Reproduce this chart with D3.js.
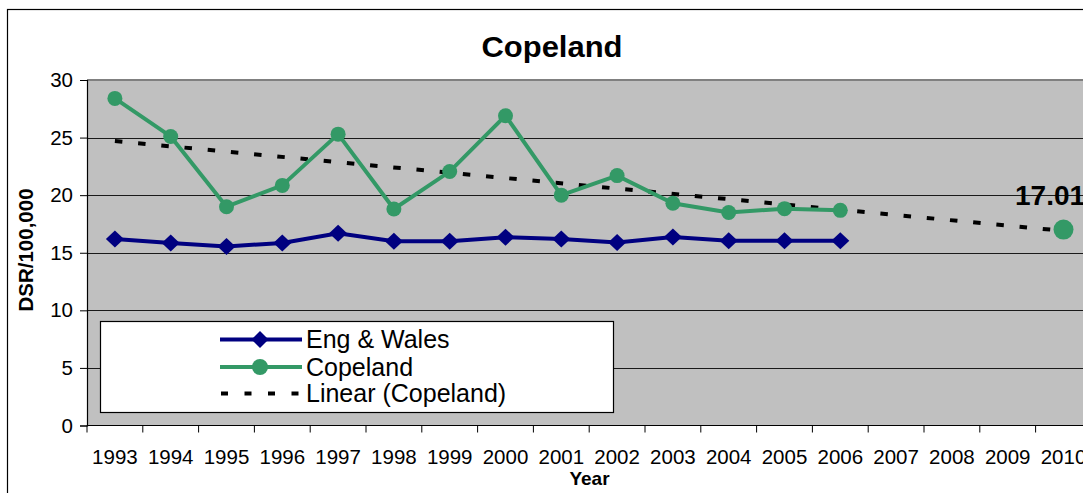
<!DOCTYPE html>
<html>
<head>
<meta charset="utf-8">
<script src="https://cdn.jsdelivr.net/npm/d3@7"></script>
<style>
  html, body { margin: 0; padding: 0; background: #fff; overflow: hidden; }
  svg { display: block; font-family: "Liberation Sans", Arial, sans-serif; }
</style>
</head>
<body>
<svg id="chart" width="1083" height="493"></svg>
<script>
// Category axis (trend extends to 2010)
const years = ["1993","1994","1995","1996","1997","1998","1999","2000","2001","2002",
               "2003","2004","2005","2006","2007","2008","2009","2010"];
// Directly standardised rates per 100,000, 1993-2006
const engWales = [16.2, 15.85, 15.55, 15.85, 16.7, 16.0, 16.0, 16.35, 16.2, 15.9, 16.37, 16.05, 16.05, 16.05];
const copeland = [28.4, 25.1, 19.0, 20.85, 25.3, 18.8, 22.05, 26.9, 20.0, 21.7, 19.3, 18.5, 18.83, 18.68];
// Linear trend of Copeland, ends
const trendYears = ["1993", "2010"];
const trendValues = [24.7, 16.9];
// Projected value for 2010
const projYear = "2010";
const projValue = 17.01;
const yTicks = [0, 5, 10, 15, 20, 25, 30];

const GREEN = "#339966", NAVY = "#000080", PLOT_BG = "#C0C0C0";

const svg = d3.select("#chart");
const plotLeft = 87, plotTop = 80, plotBottom = 425.5, step = 55.8;

const x = d3.scaleBand().domain(years).range([plotLeft, plotLeft + step * years.length]).padding(0);
const y = d3.scaleLinear().domain([0, 30]).range([plotBottom, plotTop]);
const cx = d => x(d) + x.bandwidth() / 2;

// Chart frame
svg.append("rect").attr("x", 7.5).attr("y", 9.5).attr("width", 1100).attr("height", 500)
  .attr("fill", "#fff").attr("stroke", "#000").attr("stroke-width", 1.2);

// Plot area
svg.append("rect").attr("x", plotLeft).attr("y", plotTop)
  .attr("width", x.range()[1] - plotLeft).attr("height", plotBottom - plotTop)
  .attr("fill", PLOT_BG);

// Gridlines
svg.append("g").selectAll("line").data(yTicks.filter(t => t > 0 && t < 30)).join("line")
  .attr("x1", plotLeft).attr("x2", x.range()[1])
  .attr("y1", d => Math.round(y(d)) + 0.5).attr("y2", d => Math.round(y(d)) + 0.5)
  .attr("stroke", "#1a1a1a").attr("stroke-width", 1);
svg.append("line").attr("x1", plotLeft).attr("x2", x.range()[1])
  .attr("y1", plotTop).attr("y2", plotTop).attr("stroke", "#808080").attr("stroke-width", 2);

// Y axis
const yAxis = d3.axisLeft(y).tickValues(yTicks).tickSize(7).tickPadding(7);
const gy = svg.append("g").attr("transform", `translate(${plotLeft},0)`).call(yAxis);
gy.select(".domain").attr("stroke", "#000").attr("stroke-width", 1.2);
gy.selectAll(".tick line").attr("stroke", "#000");
gy.selectAll(".tick text").attr("font-size", 20.5).attr("fill", "#000")
  .attr("font-family", "Liberation Sans, Arial, sans-serif");

// X axis: ticks between categories, labels centred in each category
const gx = svg.append("g").attr("transform", `translate(0,${plotBottom})`);
gx.append("line").attr("x1", plotLeft).attr("x2", x.range()[1]).attr("y1", 0).attr("y2", 0)
  .attr("stroke", "#000").attr("stroke-width", 1.2);
gx.selectAll("line.tk").data(years).join("line").attr("class", "tk")
  .attr("x1", d => x(d)).attr("x2", d => x(d)).attr("y1", 0).attr("y2", 7)
  .attr("stroke", "#000");
gx.selectAll("text").data(years).join("text")
  .attr("x", d => cx(d)).attr("y", 38).attr("text-anchor", "middle")
  .attr("font-size", 20.5).attr("fill", "#000").text(d => d);

// Trend line
svg.append("path")
  .attr("d", d3.line().x(d => cx(d[0])).y(d => y(d[1]))(d3.zip(trendYears, trendValues)))
  .attr("fill", "none").attr("stroke", "#000").attr("stroke-width", 4)
  .attr("stroke-dasharray", "7.5,15.8");

const seriesYears = years.slice(0, engWales.length);
const line = d3.line().x(d => cx(d[0])).y(d => y(d[1]));

// England & Wales
const ewData = d3.zip(seriesYears, engWales);
svg.append("path").attr("d", line(ewData)).attr("fill", "none")
  .attr("stroke", NAVY).attr("stroke-width", 4);
const diamond = (px, py, w, h) => `M${px},${py - h}L${px + w},${py}L${px},${py + h}L${px - w},${py}Z`;
svg.append("g").selectAll("path").data(ewData).join("path")
  .attr("d", d => diamond(cx(d[0]), y(d[1]), 9, 8.5)).attr("fill", NAVY);

// Copeland
const cpData = d3.zip(seriesYears, copeland);
svg.append("path").attr("d", line(cpData)).attr("fill", "none")
  .attr("stroke", GREEN).attr("stroke-width", 4);
svg.append("g").selectAll("circle").data(cpData).join("circle")
  .attr("cx", d => cx(d[0])).attr("cy", d => y(d[1])).attr("r", 7.5).attr("fill", GREEN);

// 2010 projection
svg.append("circle").attr("cx", cx(projYear)).attr("cy", y(projValue)).attr("r", 10).attr("fill", GREEN);
svg.append("text").attr("x", 1015).attr("y", 205).attr("font-size", 28).attr("font-weight", "bold")
  .attr("fill", "#000").text(projValue.toFixed(2));

// Legend
const lg = svg.append("g");
lg.append("rect").attr("x", 100.5).attr("y", 321.5).attr("width", 513).attr("height", 91)
  .attr("fill", "#fff").attr("stroke", "#000").attr("stroke-width", 1.2);
const legendItems = [
  { label: "Eng & Wales", type: "diamond", color: NAVY, cy: 339.5 },
  { label: "Copeland", type: "circle", color: GREEN, cy: 367 },
  { label: "Linear (Copeland)", type: "dash", color: "#000", cy: 393.5 }
];
legendItems.forEach(it => {
  if (it.type === "dash") {
    lg.append("line").attr("x1", 221).attr("x2", 302).attr("y1", it.cy).attr("y2", it.cy)
      .attr("stroke", "#000").attr("stroke-width", 4).attr("stroke-dasharray", "7,16.5");
  } else {
    lg.append("line").attr("x1", 220).attr("x2", 302).attr("y1", it.cy).attr("y2", it.cy)
      .attr("stroke", it.color).attr("stroke-width", 4);
    if (it.type === "diamond") {
      lg.append("path").attr("d", diamond(260, it.cy, 8.5, 8.5)).attr("fill", it.color);
    } else {
      lg.append("circle").attr("cx", 260).attr("cy", it.cy).attr("r", 8).attr("fill", it.color);
    }
  }
  lg.append("text").attr("x", 306).attr("y", it.cy + 8.5).attr("font-size", 25)
    .attr("fill", "#000").text(it.label);
});

// Titles
svg.append("text").attr("x", 552).attr("y", 57).attr("text-anchor", "middle")
  .attr("font-size", 29).attr("font-weight", "bold").attr("fill", "#000")
  .attr("textLength", 141).attr("lengthAdjust", "spacingAndGlyphs").text("Copeland");
svg.append("text").attr("transform", "translate(33,250) rotate(-90)").attr("text-anchor", "middle")
  .attr("font-size", 20.5).attr("font-weight", "bold").attr("fill", "#000").text("DSR/100,000");
svg.append("text").attr("x", 589.5).attr("y", 485).attr("text-anchor", "middle")
  .attr("font-size", 19).attr("font-weight", "bold").attr("fill", "#000").text("Year");
</script>
</body>
</html>
